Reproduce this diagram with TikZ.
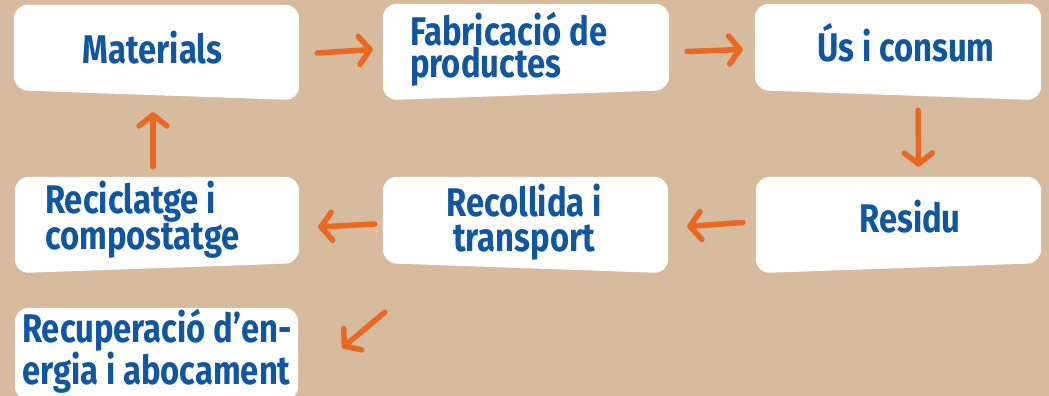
\documentclass[tikz,border=0pt]{standalone}
\usepackage{fontspec}
\newfontfamily\hand[FakeStretch=0.82]{Fira Sans}
\usetikzlibrary{arrows.meta}
\definecolor{card}{RGB}{214,187,158}
\definecolor{tblue}{RGB}{16,86,160}
\definecolor{orng}{RGB}{233,105,35}
\newcommand\cardbox[3]{\fill[white, rounded corners=14pt] (#1.north west) -- (#1.north east) -- ([yshift=#2]#1.south east) -- ([yshift=#3]#1.south west) -- cycle;}
\begin{document}
\begin{tikzpicture}[x=1pt,y=1pt,
  box/.style={rectangle, minimum height=91pt, inner sep=0pt},
  lbl/.style={font=\hand\bfseries\fontsize{40}{#1}\selectfont, text=tblue, inner sep=0pt},
  lbl/.default=35,
  arr/.style={draw=orng, line width=5.5pt, line cap=round, -{Straight Barb[length=11pt,width=28pt,line cap=round,line join=round]}}
]
\useasboundingbox (0,0) rectangle (1049,396);
\clip (0,0) rectangle (1049,396);
\fill[card] (0,0) rectangle (1049,396);
% boxes
\node[box, minimum width=285pt, minimum height=90pt] (b1) at (156.5,346) {};
\node[box, minimum width=286pt] (b2) at (526,346.5) {};
\node[box, minimum width=286pt] (b3) at (898,346.5) {};
\node[box, minimum width=285pt] (b4) at (898.5,173.5) {};
\node[box, minimum width=285pt] (b5) at (525.5,173.5) {};
\node[box, minimum width=284pt] (b6) at (157,173.5) {};
\node[box, minimum width=283pt, minimum height=92pt] (b7) at (156.5,42) {};
\cardbox{b1}{-5pt}{5pt}
\cardbox{b2}{5pt}{-5pt}
\cardbox{b3}{-5pt}{5pt}
\cardbox{b4}{5pt}{-5pt}
\cardbox{b5}{-5pt}{5pt}
\cardbox{b6}{5pt}{-5pt}
\cardbox{b7}{0pt}{0pt}
% labels (base anchor = baseline of the last line)
\node[lbl, anchor=base] (t1) at (152.5,332) {Materials};
\node[lbl=32, anchor=base west, align=left] (t2) at (410,318) {Fabricació de\\productes};
\node[lbl, anchor=base] (t3) at (906,334) {Ús i consum};
\node[lbl, anchor=base] (t4) at (910,163) {Residu};
\node[lbl, anchor=base, align=center] (t5) at (524,144) {Recollida i\\transport};
\node[lbl, anchor=base west, align=left] (t6) at (45,146) {Reciclatge i\\compostatge};
\node[lbl=37, anchor=base west, align=left] (t7) at (22,11) {Recuperació d’en-\\ergia i abocament};
% arrows
\draw[arr] ([shift={(18pt,-3pt)}]b1.east) -- ([shift={(-10pt,0pt)}]b2.west);
\draw[arr] ([shift={(18pt,-2pt)}]b2.east) -- ([shift={(-12pt,0pt)}]b3.west);
\draw[arr] ([shift={(20pt,-15pt)}]b3.south) -- ([shift={(20pt,10pt)}]b4.north);
\draw[arr] ([shift={(-13pt,0pt)}]b4.west) -- ([shift={(19pt,-4pt)}]b5.east);
\draw[arr] ([shift={(-8pt,-1.5pt)}]b5.west) -- ([shift={(19pt,-4.5pt)}]b6.east);
\draw[arr] ([shift={(-4pt,10pt)}]b6.north) -- ([shift={(-3.5pt,-17pt)}]b1.south);
\draw[arr] ([shift={(2pt,-44pt)}]b5.south west) -- ([shift={(44pt,6pt)}]b7.east);
\end{tikzpicture}
\end{document}
